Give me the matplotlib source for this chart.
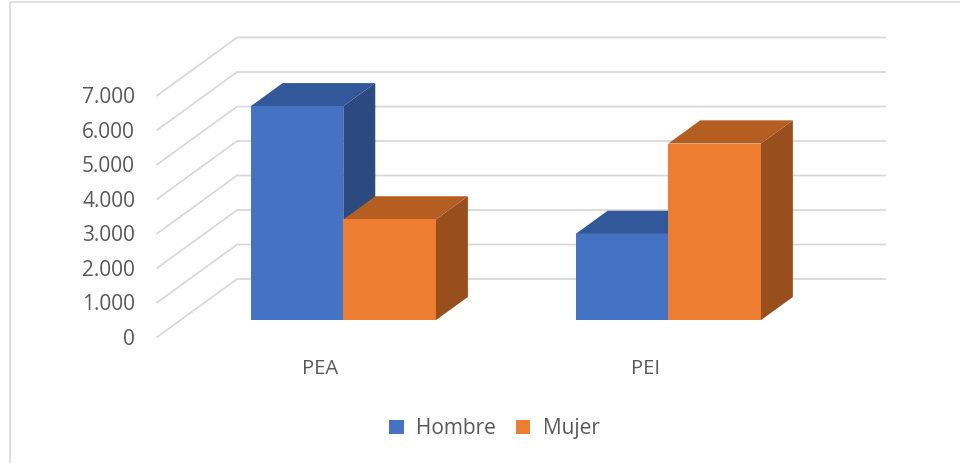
import matplotlib.pyplot as plt
from matplotlib.patches import Polygon, Rectangle

categories = ["PEA", "PEI"]
series = ["Hombre", "Mujer"]
hombre = [6200, 2500]
mujer = [2920, 5120]
ticks = [0, 1000, 2000, 3000, 4000, 5000, 6000, 7000]
tick_labels = ["0", "1.000", "2.000", "3.000", "4.000", "5.000", "6.000", "7.000"]

front_colors = ["#4472C4", "#ED7D31"]
top_colors = ["#32579A", "#B45E22"]
side_colors = ["#2A4A80", "#994E1D"]

plt.rcParams["font.family"] = ["Open Sans", "DejaVu Sans"]
TXT = "#595959"
GRID = "#D9D9D9"

# oblique 3-D look: full depth shifts x by DX (category units) and y by DY (value units)
DX = 0.246
DY = 1681
BAR_W = 0.285
Z0, Z1 = 0.29, 0.69          # bar front / back depth
X_LEFT, X_RIGHT = -0.5015, 1.492


def proj(x, v, z):
    return (x + z * DX, v + z * DY)


fig = plt.figure(figsize=(9.6, 4.63), dpi=100)
ax = fig.add_axes([0, 0, 1, 1])
ax.set_xlim(-0.985, 1.969)
ax.set_ylim(-3652, 9768)
ax.axis("off")

# walls: left wall + back wall gridlines
for v in ticks:
    p0 = proj(X_LEFT, v, 0)
    p1 = proj(X_LEFT, v, 1)
    p2 = proj(X_RIGHT, v, 1)
    ax.plot([p0[0], p1[0], p2[0]], [p0[1], p1[1], p2[1]], color=GRID, lw=1.3, zorder=1)

for v, lab in zip(ticks, tick_labels):
    ax.text(X_LEFT - 0.068, v - 60, lab, ha="right", va="center", fontsize=15, color=TXT)


def draw_bar(xc, val, i):
    x0, x1 = xc - BAR_W, xc
    if i == 1:
        x0, x1 = xc, xc + BAR_W
    front = [proj(x0, 0, Z0), proj(x1, 0, Z0), proj(x1, val, Z0), proj(x0, val, Z0)]
    top = [proj(x0, val, Z0), proj(x1, val, Z0), proj(x1, val, Z1), proj(x0, val, Z1)]
    side = [proj(x1, 0, Z0), proj(x1, 0, Z1), proj(x1, val, Z1), proj(x1, val, Z0)]
    ax.add_patch(Polygon(side, closed=True, fc=side_colors[i], ec="none", zorder=3))
    ax.add_patch(Polygon(top, closed=True, fc=top_colors[i], ec="none", zorder=3))
    ax.add_patch(Polygon(front, closed=True, fc=front_colors[i], ec="none", zorder=3))


for k, cat in enumerate(categories):
    draw_bar(k, hombre[k], 0)
    draw_bar(k, mujer[k], 1)
    ax.text(k, -930, cat, ha="center", va="center", fontsize=14.5, color=TXT)

# legend
handles = [Rectangle((0, 0), 1, 1, fc=c, ec="none") for c in front_colors]
fig.legend(handles, series, loc="center", bbox_to_anchor=(0.515, 0.074), ncol=2,
           frameon=False, fontsize=15, labelcolor=TXT, handlelength=0.7,
           handleheight=0.7, handletextpad=0.6, columnspacing=0.95)

# chart border
fig.patches.append(Rectangle((10 / 960, -0.01), 1.1, 1 - 2 / 463 + 0.01,
                             transform=fig.transFigure, fill=False,
                             ec="#D9D9D9", lw=1.2))

plt.savefig("out.png", dpi=100)
